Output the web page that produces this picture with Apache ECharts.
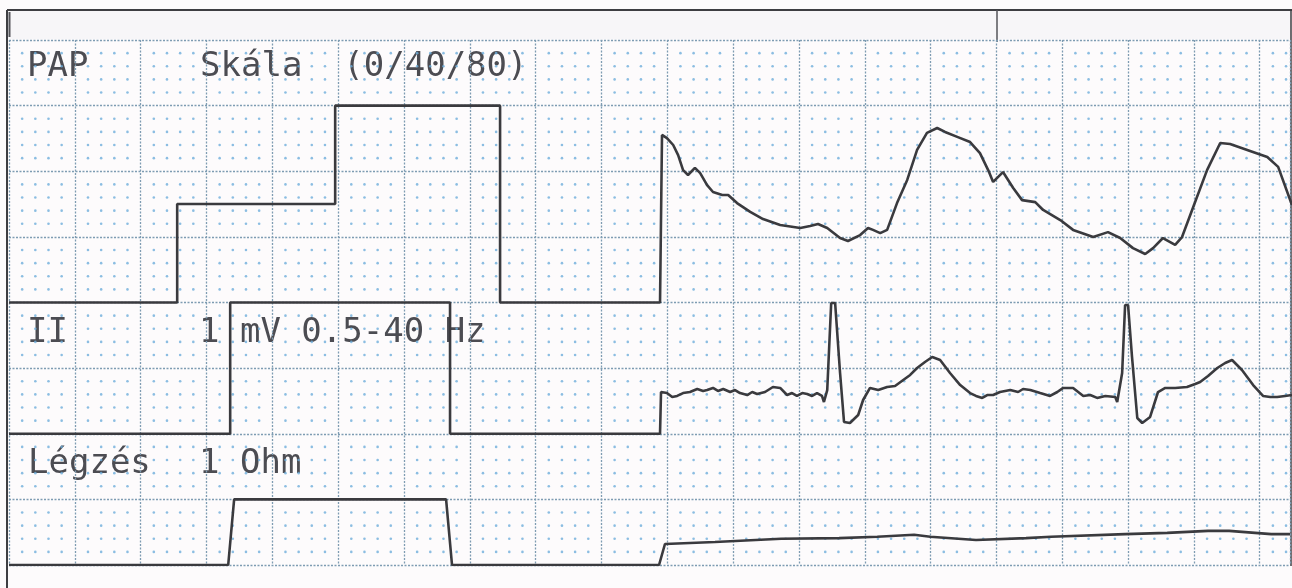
<!DOCTYPE html>
<html>
<head>
<meta charset="utf-8">
<script src="https://cdn.jsdelivr.net/npm/echarts@6/dist/echarts.min.js"></script>
<style>
html, body { margin: 0; padding: 0; background: #ffffff; }
#strip { width: 1292px; height: 588px; }
</style>
</head>
<body>
<div id="strip"></div>
<script>
// paper speed 25 mm/s -> x in seconds, paper y in mm (small boxes)

// PAP, mmHg (scale 0/40/80)
var papCal = [[0, 0], [0.511, 0], [0.511, 40], [0.991, 40], [0.991, 80], [1.492, 80], [1.492, 0], [1.978, 0]];
var papWave = [
	[1.984, 68.1], [1.999, 66.8], [2.018, 64.0], [2.033, 59.9], [2.048, 53.8], [2.063, 51.8],
	[2.084, 54.7], [2.100, 52.6], [2.121, 47.7], [2.139, 44.9], [2.167, 43.7], [2.185, 43.7],
	[2.212, 40.4], [2.252, 36.8], [2.291, 33.9], [2.343, 31.5], [2.404, 30.3], [2.434, 31.1],
	[2.458, 31.9], [2.486, 30.3], [2.525, 26.2], [2.549, 25.0], [2.586, 27.4], [2.610, 30.3],
	[2.625, 29.5], [2.647, 28.2], [2.668, 29.5], [2.698, 40.4], [2.729, 49.8], [2.759, 62.0],
	[2.789, 68.9], [2.820, 70.9], [2.844, 69.3], [2.881, 67.3], [2.920, 65.2], [2.950, 60.7],
	[2.975, 53.8], [2.990, 49.0], [3.020, 53.0], [3.051, 46.5], [3.078, 41.6], [3.118, 40.8],
	[3.142, 37.6], [3.194, 33.5], [3.233, 29.5], [3.294, 26.6], [3.339, 28.6], [3.376, 26.2],
	[3.415, 22.1], [3.452, 19.7], [3.476, 22.1], [3.506, 26.2], [3.543, 23.4], [3.564, 26.6],
	[3.598, 38.8], [3.640, 53.8], [3.680, 64.8], [3.710, 64.4], [3.762, 62.0], [3.823, 59.1],
	[3.856, 55.1], [3.898, 39.6]
];

// ECG lead II, mV (10 mm/mV)
var ecgCal = [[0, 0], [0.672, 0], [0.672, 1], [1.340, 1], [1.340, 0], [1.978, 0]];
var ecgWave = [
	[1.981, 0.318], [1.999, 0.310], [2.015, 0.280], [2.030, 0.288], [2.048, 0.310], [2.069, 0.318],
	[2.091, 0.341], [2.109, 0.326], [2.121, 0.333], [2.139, 0.349], [2.154, 0.326], [2.170, 0.341],
	[2.191, 0.318], [2.206, 0.333], [2.221, 0.310], [2.243, 0.295], [2.258, 0.318], [2.273, 0.303],
	[2.297, 0.318], [2.321, 0.356], [2.343, 0.349], [2.364, 0.295], [2.379, 0.310], [2.394, 0.288],
	[2.410, 0.310], [2.425, 0.303], [2.440, 0.288], [2.455, 0.310], [2.470, 0.288], [2.476, 0.242],
	[2.486, 0.333], [2.498, 0.996], [2.510, 0.996], [2.525, 0.463], [2.537, 0.090], [2.555, 0.082],
	[2.580, 0.143], [2.595, 0.257], [2.616, 0.349], [2.641, 0.333], [2.668, 0.356], [2.692, 0.364],
	[2.717, 0.410], [2.738, 0.448], [2.759, 0.501], [2.783, 0.547], [2.805, 0.585], [2.829, 0.562],
	[2.859, 0.463], [2.890, 0.371], [2.920, 0.310], [2.938, 0.288], [2.957, 0.273], [2.972, 0.295],
	[2.990, 0.295], [3.011, 0.318], [3.042, 0.333], [3.066, 0.318], [3.081, 0.341], [3.103, 0.333],
	[3.133, 0.310], [3.163, 0.288], [3.185, 0.318], [3.203, 0.349], [3.233, 0.349], [3.264, 0.288],
	[3.285, 0.295], [3.306, 0.273], [3.331, 0.288], [3.361, 0.280], [3.367, 0.242], [3.382, 0.463],
	[3.391, 0.981], [3.400, 0.981], [3.412, 0.585], [3.428, 0.120], [3.443, 0.082], [3.467, 0.128],
	[3.491, 0.318], [3.513, 0.349], [3.543, 0.349], [3.579, 0.356], [3.604, 0.379], [3.619, 0.394],
	[3.643, 0.440], [3.671, 0.501], [3.695, 0.539], [3.716, 0.562], [3.746, 0.486], [3.780, 0.371],
	[3.810, 0.288], [3.832, 0.280], [3.853, 0.280], [3.877, 0.288], [3.898, 0.295]
];

// respiration (Légzés), Ohm (5 mm/Ohm)
var respCal = [[0, 0], [0.666, 0], [0.684, 1], [1.328, 1], [1.346, 0], [1.975, 0]];
var respWave = [
	[1.993, 0.32], [2.145, 0.35], [2.346, 0.40], [2.522, 0.41], [2.638, 0.43], [2.750, 0.46],
	[2.799, 0.43], [2.938, 0.38], [3.090, 0.41], [3.166, 0.43], [3.391, 0.47], [3.519, 0.49],
	[3.643, 0.52], [3.707, 0.52], [3.835, 0.47], [3.892, 0.47]
];

var tMax = 3.892;   // 97.3 mm of paper
var mmMax = 40;

// minor paper dots, every 1 mm
var dots = [];
for (var i = 1; i * 0.04 < tMax; i++) {
	if (i % 5 == 0) continue;
	for (var j = 1; j < mmMax; j++) {
		if (j % 5 == 0) continue;
		dots.push([+(i * 0.04).toFixed(2), j]);
	}
}

var myChart = echarts.init(document.getElementById('strip'));

var traceStyle = { color: '#3a3a3e', width: 2.6 };
var majorLine = { color: '#7e9cb2', width: 1.3, type: [2, 1.5] };
var monoFont = '34px "DejaVu Sans Mono"';
var ink = '#4c4c52';

var option = {
	backgroundColor: '#fdfbfc',
	animation: false,
	grid: { left: 9, right: 2, top: 40, bottom: 23 },
	xAxis: {
		type: 'value', min: 0, max: tMax, interval: 0.2,
		axisLine: { show: false }, axisTick: { show: false }, axisLabel: { show: false },
		splitLine: { show: true, lineStyle: majorLine }
	},
	yAxis: [
		{
			type: 'value', min: 0, max: mmMax, interval: 5,
			axisLine: { show: false }, axisTick: { show: false }, axisLabel: { show: false },
			splitLine: { show: true, lineStyle: majorLine }
		},
		{ type: 'value', show: false, min: -320 / 3, max: 320 / 3, splitLine: { show: false } },
		{ type: 'value', show: false, min: -1, max: 3, splitLine: { show: false } },
		{ type: 'value', show: false, min: 0, max: 8, splitLine: { show: false } }
	],
	series: [
		{
			name: 'paper', type: 'scatter', yAxisIndex: 0, silent: true,
			symbol: 'circle', symbolSize: 2.6,
			itemStyle: { color: '#6eaedb' },
			data: dots
		},
		{
			name: 'PAP', type: 'line', yAxisIndex: 1, showSymbol: false,
			lineStyle: traceStyle, data: papCal.concat(papWave)
		},
		{
			name: 'II', type: 'line', yAxisIndex: 2, showSymbol: false,
			lineStyle: traceStyle, data: ecgCal.concat(ecgWave)
		},
		{
			name: 'Légzés', type: 'line', yAxisIndex: 3, showSymbol: false,
			lineStyle: traceStyle, data: respCal.concat(respWave)
		}
	],
	graphic: [
		// header strip and frame
		{ type: 'rect', z: -1, shape: { x: 8, y: 11, width: 1283, height: 28 }, style: { fill: '#f7f6f8' } },
		{ type: 'line', shape: { x1: 7, y1: 10, x2: 1292, y2: 10 }, style: { stroke: '#3e3e42', lineWidth: 2 } },
		{ type: 'line', shape: { x1: 7, y1: 10, x2: 7, y2: 588 }, style: { stroke: '#3e3e42', lineWidth: 2 } },
		{ type: 'line', shape: { x1: 1291, y1: 10, x2: 1291, y2: 566 }, style: { stroke: '#3e3e42', lineWidth: 1.5 } },
		{ type: 'line', shape: { x1: 9.5, y1: 12, x2: 9.5, y2: 37 }, style: { stroke: '#55555a', lineWidth: 2 } },
		{ type: 'line', shape: { x1: 997, y1: 10, x2: 997, y2: 42 }, style: { stroke: '#55555a', lineWidth: 1.5 } },
		// channel labels
		{ type: 'text', x: 27, y: 50, style: { text: 'PAP', font: monoFont, fill: ink } },
		{ type: 'text', x: 200, y: 50, style: { text: 'Skála  (0/40/80)', font: monoFont, fill: ink } },
		{ type: 'text', x: 27, y: 316, style: { text: 'II', font: monoFont, fill: ink } },
		{ type: 'text', x: 199, y: 316, style: { text: '1 mV 0.5-40 Hz', font: monoFont, fill: ink } },
		{ type: 'text', x: 28, y: 447, style: { text: 'Légzés', font: monoFont, fill: ink } },
		{ type: 'text', x: 199, y: 447, style: { text: '1 Ohm', font: monoFont, fill: ink } }
	]
};

myChart.setOption(option);
</script>
</body>
</html>
